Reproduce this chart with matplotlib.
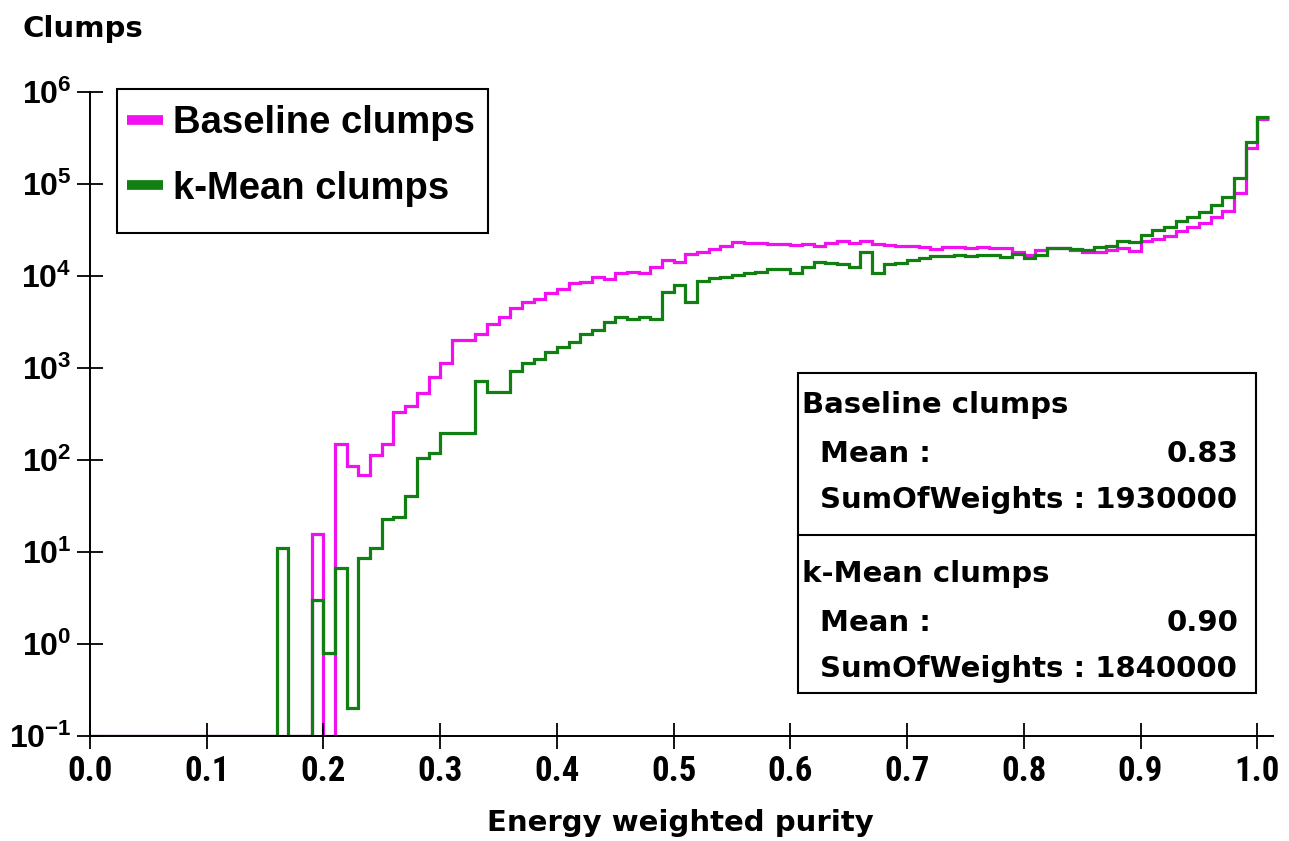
import numpy as np
import matplotlib
matplotlib.use('Agg')
import matplotlib.pyplot as plt
from matplotlib import font_manager
from matplotlib.lines import Line2D
from matplotlib.patches import Rectangle

# histogram bins: 0.00 .. 1.01, width 0.01
bin_width = 0.01
n_bins = 101

baseline = [0] * 19 + [
    15.5, 0, 150, 87, 68, 112, 150, 330, 390, 540,
    790, 1120, 2000, 2000, 2350, 3000, 3550, 4500, 5200, 5600,
    6500, 7200, 8300, 8700, 9800, 9300, 10700, 11000, 10700, 12600,
    14800, 14100, 17400, 18200, 19500, 21400, 23400, 22900, 22900, 22400,
    22400, 21900, 22400, 21400, 22900, 24000, 22900, 24000, 22400, 21900,
    21400, 21400, 20900, 19500, 20900, 20900, 20400, 20900, 20400, 20400,
    18200, 17000, 19100, 20400, 20400, 19100, 18200, 18200, 19100, 20400,
    18600, 24000, 25100, 26900, 30900, 33900, 38000, 43600, 51300, 79400,
    245000, 513000]

kmean = [0] * 16 + [
    11, 0, 0, 3.0, 0.8, 6.7, 0.2, 8.7, 11, 23,
    24, 41, 104, 118, 195, 195, 195, 730, 550, 550,
    930, 1120, 1260, 1480, 1700, 1900, 2340, 2570, 3160, 3550,
    3390, 3550, 3390, 6760, 7940, 5250, 8900, 9550, 9800, 10200,
    10700, 11000, 12000, 12000, 10700, 12600, 14100, 13800, 13500, 12600,
    18200, 10700, 13500, 13800, 15100, 15800, 16600, 16600, 17000, 16600,
    17000, 17000, 16200, 17400, 15500, 17000, 20000, 20400, 19500, 19100,
    20900, 21400, 24000, 23400, 28200, 31600, 33900, 39800, 43600, 50100,
    58900, 72400, 115000, 288000, 537000]

labels = ['Baseline clumps', 'k-Mean clumps']
means = ['0.83', '0.90']
sums = ['1930000', '1840000']
colors = ['#f010f0', '#117f11']

x_ticks = [0.0, 0.1, 0.2, 0.3, 0.4, 0.5, 0.6, 0.7, 0.8, 0.9, 1.0]
y_exps = [-1, 0, 1, 2, 3, 4, 5, 6]

W, H = 1289, 841
ymin = 0.1

# narrow bold face for the x tick labels, if one is installed
narrow_prop = None
for f in font_manager.fontManager.ttflist:
    fn = f.fname.lower()
    if ('narrow' in fn or 'condensed' in fn) and 'bold' in fn and 'italic' not in fn \
            and 'oblique' not in fn and 'semi' not in fn and 'extra' not in fn:
        if narrow_prop is None or 'liberation' in fn or 'roboto' in fn:
            narrow_prop = font_manager.FontProperties(fname=f.fname, size=25)
if narrow_prop is None:
    narrow_prop = font_manager.FontProperties(family='Liberation Sans', weight='bold', size=24)

plt.rcParams['mathtext.fontset'] = 'custom'
plt.rcParams['mathtext.bf'] = 'Liberation Sans:bold'
plt.rcParams['mathtext.rm'] = 'Liberation Sans:bold'

fig = plt.figure(figsize=(W / 100, H / 100), dpi=100)
ax = fig.add_axes([90 / W, 1 - 736 / H, (1273 - 90) / W, (736 - 92) / H])

edges = np.arange(n_bins + 1) * bin_width
for vals, col in zip([baseline, kmean], colors):
    v = np.array(vals, dtype=float)
    ax.stairs(np.where(v > 0, v, ymin), edges, baseline=None, color=col, lw=2.3)

ax.set_yscale('log')
ax.set_ylim(ymin, 1e6)
ax.set_xlim(0, 1.0135)
ax.minorticks_off()

for s in ['top', 'right']:
    ax.spines[s].set_visible(False)
for s in ['left', 'bottom']:
    ax.spines[s].set_linewidth(1.4)

ax.set_xticks(x_ticks)
ax.set_xticklabels(['%.1f' % t for t in x_ticks])
for lab in ax.get_xticklabels():
    lab.set_fontproperties(narrow_prop)
ax.set_yticks([10.0 ** e for e in y_exps])
ax.set_yticklabels([r'$\mathbf{10^{%d}}$' % e for e in y_exps], fontsize=23)
ax.tick_params(axis='both', direction='inout', length=19, width=1.3)
ax.tick_params(axis='x', pad=4)
ax.tick_params(axis='y', pad=4)

fig.text(680 / W, 1 - 823 / H, 'Energy weighted purity', ha='center', va='center',
         fontfamily='DejaVu Sans', fontweight='bold', fontsize=21)
fig.text(22 / W, 1 - 37 / H, 'Clumps', ha='left', va='baseline',
         fontfamily='DejaVu Sans', fontweight='bold', fontsize=21)

# legend (frame drawn separately)
tf = fig.transFigure
handles = [Line2D([], [], color=c, lw=7, solid_capstyle='butt') for c in colors]
leg = fig.legend(handles, labels, loc='upper left', bbox_to_anchor=(127 / W, 1 - 105 / H),
                 borderaxespad=0, frameon=False, borderpad=0, labelspacing=0.78,
                 handlelength=0.95, handletextpad=0.26,
                 prop={'family': 'Liberation Sans', 'weight': 'bold', 'size': 27.5})
fig.patches.append(Rectangle((117 / W, 1 - 233 / H), (488 - 117) / W, (233 - 89) / H,
                             transform=tf, fill=False, edgecolor='black', lw=1.5))

# statistics box
fig.patches.append(Rectangle((798 / W, 1 - 693 / H), (1256 - 798) / W, (693 - 373) / H,
                             transform=tf, fill=False, edgecolor='black', lw=1.5))
fig.lines.append(Line2D([798 / W, 1256 / W], [1 - 535 / H, 1 - 535 / H],
                        transform=tf, color='black', lw=1.5))
stat_font = dict(fontfamily='DejaVu Sans', fontweight='bold', fontsize=21, va='baseline')
for k, y0 in enumerate([413, 582]):
    fig.text(802 / W, 1 - y0 / H, labels[k], ha='left', **stat_font)
    fig.text(820 / W, 1 - (y0 + 49) / H, 'Mean :', ha='left', **stat_font)
    fig.text(1239 / W, 1 - (y0 + 49) / H, means[k], ha='right', **stat_font)
    fig.text(820 / W, 1 - (y0 + 95) / H, 'SumOfWeights : ' + sums[k], ha='left', **stat_font)

fig.savefig('out.png', dpi=100)
